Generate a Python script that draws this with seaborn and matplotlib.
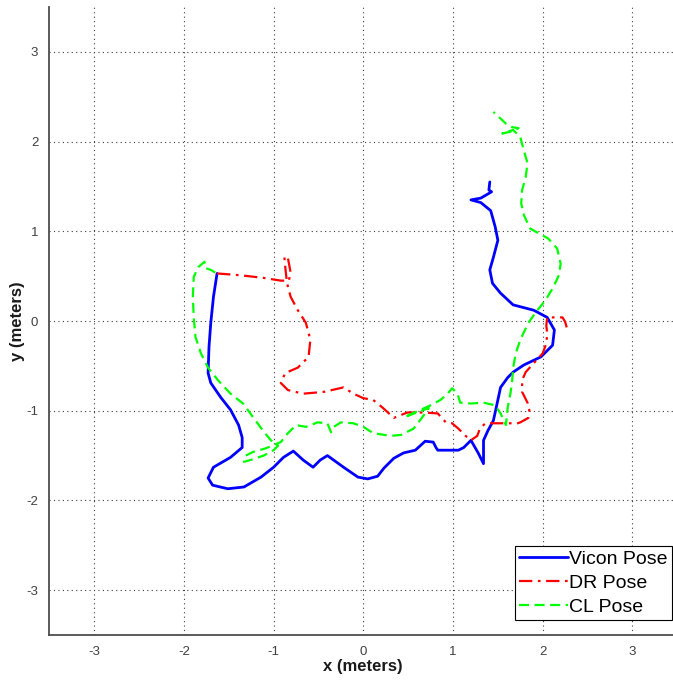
import numpy as np
import pandas as pd
import matplotlib
matplotlib.use('Agg')
import matplotlib.pyplot as plt
import seaborn as sns

# Trajectories (meters)
vicon_x = [-1.63, -1.67, -1.70, -1.72, -1.73, -1.70, -1.59, -1.48, -1.39, -1.35, -1.35, -1.48,
           -1.67, -1.73, -1.68, -1.51, -1.33, -1.14, -1.00, -0.89, -0.78, -0.67, -0.56, -0.48,
           -0.40, -0.22, -0.06, 0.05, 0.16, 0.23, 0.34, 0.45, 0.58, 0.69, 0.78, 0.81, 0.83,
           1.06, 1.12, 1.20, 1.28, 1.34, 1.34, 1.39, 1.45, 1.50, 1.53, 1.61, 1.67, 1.79, 1.98,
           2.11, 2.13, 2.05, 1.90, 1.67, 1.53, 1.44, 1.41, 1.45, 1.50, 1.47, 1.42, 1.31, 1.20,
           1.31, 1.43, 1.40, 1.41]
vicon_y = [0.53, 0.27, -0.02, -0.29, -0.58, -0.69, -0.85, -0.99, -1.16, -1.30, -1.41, -1.52,
           -1.63, -1.75, -1.83, -1.87, -1.85, -1.74, -1.63, -1.52, -1.45, -1.55, -1.63, -1.55,
           -1.50, -1.63, -1.74, -1.76, -1.73, -1.64, -1.53, -1.47, -1.44, -1.34, -1.35, -1.41,
           -1.44, -1.44, -1.41, -1.33, -1.47, -1.59, -1.33, -1.22, -1.11, -0.88, -0.74, -0.63,
           -0.57, -0.49, -0.40, -0.27, -0.10, 0.04, 0.12, 0.18, 0.31, 0.42, 0.57, 0.71, 0.90,
           1.05, 1.23, 1.32, 1.35, 1.37, 1.44, 1.46, 1.55]

dr_x = [-1.63, -1.37, -1.11, -0.92, -0.83, -0.81, -0.84, -0.88, -0.87, -0.85, -0.81, -0.73,
        -0.64, -0.59, -0.61, -0.73, -0.87, -0.92, -0.84, -0.67, -0.44, -0.22, -0.11, 0.00,
        0.11, 0.22, 0.34, 0.49, 0.67, 0.83, 0.92, 0.99, 1.06, 1.14, 1.20, 1.27, 1.30, 1.36,
        1.53, 1.72, 1.75, 1.84, 1.85, 1.83, 1.77, 1.77, 1.81, 1.90, 2.00, 2.04, 2.05, 2.04,
        2.05, 2.14, 2.22, 2.25, 2.27]
dr_y = [0.53, 0.51, 0.48, 0.45, 0.45, 0.54, 0.70, 0.72, 0.60, 0.42, 0.27, 0.12,
        -0.02, -0.21, -0.40, -0.52, -0.58, -0.69, -0.77, -0.81, -0.79, -0.74, -0.81, -0.86,
        -0.88, -0.97, -1.08, -1.02, -1.02, -1.03, -1.13, -1.14, -1.20, -1.28, -1.33, -1.28,
        -1.20, -1.14, -1.14, -1.14, -1.13, -1.08, -0.99, -0.91, -0.79, -0.66, -0.57, -0.47,
        -0.36, -0.25, -0.14, -0.05, 0.04, 0.04, 0.04, -0.01, -0.08]

cl_x = [-1.65, -1.70, -1.76, -1.77, -1.84, -1.89, -1.90, -1.89, -1.87, -1.81, -1.73, -1.62,
        -1.48, -1.34, -1.23, -1.12, -1.03, -0.95, -1.00, -1.11, -1.26, -1.33, -1.31, -1.23,
        -1.09, -0.92, -0.84, -0.75, -0.64, -0.51, -0.40, -0.36, -0.33, -0.25, -0.11, 0.00,
        0.11, 0.30, 0.42, 0.56, 0.66, 0.73, 0.46, 0.75, 0.86, 0.94, 0.99, 1.05, 1.08, 1.20,
        1.34, 1.47, 1.53, 1.59, 1.61, 1.64, 1.66, 1.67, 1.70, 1.75, 1.84, 1.94, 2.03, 2.12,
        2.18, 2.20, 2.16, 2.06, 1.95, 1.86, 1.79, 1.76, 1.77, 1.81, 1.83, 1.79, 1.75, 1.67,
        1.55, 1.64, 1.73, 1.66, 1.59, 1.45]
cl_y = [0.54, 0.57, 0.59, 0.66, 0.60, 0.49, 0.27, 0.04, -0.18, -0.36, -0.52, -0.66,
        -0.81, -0.92, -1.07, -1.22, -1.33, -1.39, -1.44, -1.50, -1.55, -1.57, -1.50, -1.46,
        -1.42, -1.35, -1.25, -1.16, -1.18, -1.13, -1.14, -1.24, -1.18, -1.13, -1.14, -1.18,
        -1.25, -1.28, -1.27, -1.20, -1.07, -0.97, -1.07, -0.94, -0.88, -0.81, -0.75, -0.81,
        -0.91, -0.92, -0.91, -0.94, -1.03, -1.16, -0.96, -0.81, -0.66, -0.52, -0.36, -0.21,
        -0.02, 0.12, 0.23, 0.38, 0.51, 0.64, 0.81, 0.92, 0.98, 1.03, 1.18, 1.31, 1.46, 1.60,
        1.76, 1.90, 2.05, 2.13, 2.09, 2.11, 2.15, 2.16, 2.20, 2.33]

sns.set_style("white")
plt.rcParams['font.family'] = ['Liberation Sans', 'DejaVu Sans']
plt.rcParams['axes.unicode_minus'] = False

fig = plt.figure(figsize=(6.73, 6.81), dpi=100)
ax = fig.add_axes([49.3 / 673, 46 / 681, 628 / 673, 628 / 681])

vicon = pd.DataFrame({'x': vicon_x, 'y': vicon_y})
dr = pd.DataFrame({'x': dr_x, 'y': dr_y})
cl = pd.DataFrame({'x': cl_x, 'y': cl_y})

sns.lineplot(data=vicon, x='x', y='y', sort=False, estimator=None, ax=ax,
             color=(0, 0, 1), linewidth=2.0, label='Vicon Pose')
sns.lineplot(data=dr, x='x', y='y', sort=False, estimator=None, ax=ax,
             color=(1, 0, 0), linewidth=1.6, dashes=(6, 2.5, 1.2, 2.5), label='DR Pose')
sns.lineplot(data=cl, x='x', y='y', sort=False, estimator=None, ax=ax,
             color=(0, 1, 0), linewidth=1.6, dashes=(4.5, 2.5), label='CL Pose')

ax.set_xlim(-3.5, 3.5)
ax.set_ylim(-3.5, 3.5)
ax.set_xticks(range(-3, 4))
ax.set_yticks(range(-3, 4))
ax.grid(True, color='0.25', linestyle=(0, (1, 3)), linewidth=0.8)

for side in ['top', 'right']:
    ax.spines[side].set_visible(False)
for side in ['left', 'bottom']:
    ax.spines[side].set_color('0.3')
    ax.spines[side].set_linewidth(1.3)

ax.tick_params(direction='in', length=5, width=1.2, color='0.3',
               labelsize=9.5, labelcolor='0.25', pad=8)
ax.set_xlabel('x (meters)', fontsize=12, fontweight='bold', labelpad=1, color='0.1')
ax.set_ylabel('y (meters)', fontsize=12, fontweight='bold', labelpad=1, color='0.1')

leg = ax.legend(loc='lower right', bbox_to_anchor=(0.992, 0.024), borderaxespad=0,
                fontsize=14, frameon=True, fancybox=False, handlelength=2.5,
                handletextpad=0.1, labelspacing=0.32, borderpad=0.22)
leg.get_frame().set_edgecolor('black')
leg.get_frame().set_linewidth(0.8)
leg.get_frame().set_alpha(1)
for t in leg.get_texts():
    t.set_color('black')

fig.savefig('out.png', dpi=100)
